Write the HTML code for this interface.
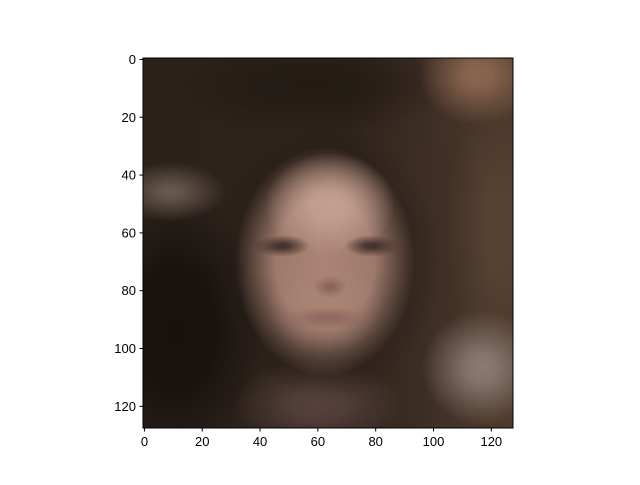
<!DOCTYPE html>
<html><head><meta charset="utf-8"><style>
body{margin:0;background:#fff;width:640px;height:480px;overflow:hidden;font-family:"Liberation Sans","DejaVu Sans",sans-serif}
</style></head><body>
<svg id="chart" width="640" height="480" xmlns="http://www.w3.org/2000/svg">
<defs id="defs">
<clipPath id="clip"><rect x="143" y="58" width="370" height="370"/></clipPath>
<linearGradient id="bg" x1="0" y1="0" x2="1" y2="0">
<stop offset="0" stop-color="#2c221c"/><stop offset="0.55" stop-color="#2e231c"/><stop offset="1" stop-color="#4e3a2c"/></linearGradient>
</defs>
<g id="img" clip-path="url(#clip)">
<rect x="143" y="58" width="370" height="370" fill="url(#bg)"/>
</g>
<rect x="143" y="58" width="370" height="370" fill="none" stroke="#000" stroke-width="1"/>
<g id="xt" font-size="13" text-anchor="middle"></g>
<g id="yt" font-size="13" text-anchor="end"></g>
</svg>
<script>
const xTicks=[0,20,40,60,80,100,120];
const yTicks=[0,20,40,60,80,100,120];
const NS="http://www.w3.org/2000/svg";
// soft blobs: cx, cy, rx, ry, color, peak opacity, core fraction
const blobs=[
 [175,330,90,140,"#17110e",1,0.45],
 [310,85,150,50,"#211913",0.8,0.3],
 [478,75,60,50,"#8a6650",1,0.25],
 [495,230,55,120,"#5a4636",0.8,0.3],
 [430,240,60,140,"#3e2e24",0.6,0.3],
 [170,192,55,30,"#706055",0.9,0.2],
 [482,368,60,58,"#8a7a70",1,0.25],
 [318,405,85,45,"#5a443e",0.9,0.3],
 [327,262,115,138,"#261c17",0.9,0.5],
 [325,262,90,115,"#aa8474",1,0.55],
 [330,205,65,52,"#c9a696",0.85,0.3],
 [325,305,58,48,"#ad8878",0.6,0.3],
 [282,246,28,11,"#3e2c28",0.95,0.25],
 [372,246,28,11,"#3e2c28",0.95,0.25],
 [330,287,17,11,"#7a564c",0.7,0.2],
 [327,318,42,11,"#8a625c",0.8,0.3]
];
const defs=document.getElementById('defs'), img=document.getElementById('img');
blobs.forEach((b,i)=>{
 const g=document.createElementNS(NS,'radialGradient');
 g.setAttribute('id','g'+i);
 [[0,b[5]],[b[6],b[5]*0.9],[(b[6]+1)/2,b[5]*0.45],[1,0]].forEach(([o,a])=>{
  const s=document.createElementNS(NS,'stop');
  s.setAttribute('offset',o);s.setAttribute('stop-color',b[4]);s.setAttribute('stop-opacity',a);
  g.appendChild(s);
 });
 defs.appendChild(g);
 const e=document.createElementNS(NS,'ellipse');
 
 
 e.setAttribute('cx',b[0]);e.setAttribute('cy',b[1]);e.setAttribute('rx',b[2]);e.setAttribute('ry',b[3]);
 e.setAttribute('fill','url(#g'+i+')');
 img.appendChild(e);
});
const sx=v=>143+(v+0.5)*370/128, sy=v=>58+(v+0.5)*370/128;
const xt=document.getElementById('xt'), yt=document.getElementById('yt');
xTicks.forEach(v=>{
 const l=document.createElementNS(NS,'line');
 
 
 l.setAttribute('x1',sx(v));l.setAttribute('x2',sx(v));l.setAttribute('y1',428);l.setAttribute('y2',431.5);l.setAttribute('stroke','#000');
 xt.appendChild(l);
 const t=document.createElementNS(NS,'text');
 
 
 t.setAttribute('x',sx(v));t.setAttribute('y',446);t.textContent=v;
 xt.appendChild(t);
});
yTicks.forEach(v=>{
 const l=document.createElementNS(NS,'line');
 
 
 l.setAttribute('x1',139.5);l.setAttribute('x2',143);l.setAttribute('y1',sy(v));l.setAttribute('y2',sy(v));l.setAttribute('stroke','#000');
 yt.appendChild(l);
 const t=document.createElementNS(NS,'text');
 
 
 t.setAttribute('x',136);t.setAttribute('y',sy(v)+4.5);t.textContent=v;
 yt.appendChild(t);
});
</script>
</body></html>
